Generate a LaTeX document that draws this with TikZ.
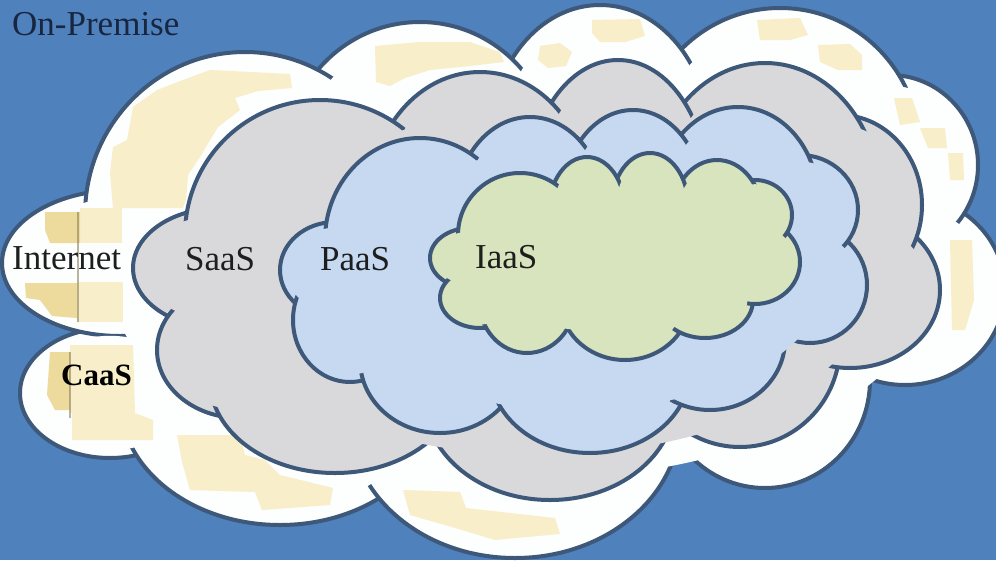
\documentclass[tikz,border=0pt]{standalone}
\usepackage{fontspec}
\setmainfont{Liberation Serif}

\definecolor{sky}{RGB}{79,129,189}
\definecolor{edge}{RGB}{62,88,122}
\definecolor{whitec}{RGB}{253,254,254}
\definecolor{cream}{RGB}{248,238,201}
\definecolor{sand}{RGB}{236,219,156}
\definecolor{greyc}{RGB}{217,217,219}
\definecolor{bluec}{RGB}{198,217,241}
\definecolor{greenc}{RGB}{215,228,189}
\definecolor{ink}{RGB}{30,30,30}
\definecolor{navy}{RGB}{24,38,64}

\tikzset{
  puff/.style={draw=edge, line width=4pt},
  lbl/.style={inner sep=0pt, anchor=west, text=ink, font=\fontsize{35}{40}\selectfont},
  lblbold/.style={inner sep=0pt, anchor=west, text=black, font=\fontsize{31}{36}\selectfont\bfseries},
}

% A cloud: every puff is filled and outlined in turn (later puffs on top),
% then slightly shrunk copies of the puffs and a core ellipse are filled
% to hide the long interior strokes, leaving only short arcs at the seams.
\newcommand\drawcloud[3]{%
  \foreach \px/\py/\ra/\rb in {#2}{%
    \path[puff, fill=#1] (\px,\py) ellipse [x radius=\ra pt, y radius=\rb pt];}
  \foreach \px/\py/\ra/\rb in {#2}{%
    \fill[#1] (\px,\py) ellipse [x radius={0.88*\ra pt}, y radius={0.88*\rb pt}];}
  \fill[#1] #3;
}

\begin{document}
\begin{tikzpicture}[x=1pt, y=-1pt]
  \useasboundingbox (0,0) rectangle (996,560);
  \fill[sky] (0,0) rectangle (996,560);
  \clip (0,0) rectangle (996,560);

  % outer white cloud (on-premise)
  \drawcloud{whitec}{905/290/100/95, 890/165/88/90, 780/150/140/142,
    600/140/110/135, 420/160/135/138, 110/393/90/65, 120/263/118/73,
    245/215/160/163, 280/400/160/125, 515/420/165/138, 765/380/105/108}
    {(520,280) ellipse [x radius=410pt, y radius=200pt]}

  % pale patches on the white cloud
  \fill[cream] (183,80) -- (210,70) -- (290,74) -- (292,88) -- (258,91) -- (235,98)
    -- (240,110) -- (218,127) -- (200,157) -- (188,175) -- (186,200) -- (183,208)
    -- (113,208) -- (110,173) -- (113,147) -- (127,140) -- (133,107) -- (157,90) -- cycle;
  \fill[cream] (375,46) -- (420,42) -- (470,42) -- (488,48) -- (500,52) -- (504,62)
    -- (470,66) -- (430,70) -- (405,78) -- (390,86) -- (376,82) -- cycle;
  \fill[cream] (540,46) -- (560,43) -- (572,52) -- (566,66) -- (548,68) -- (538,60) -- cycle;
  \fill[cream] (592,20) -- (640,19) -- (645,36) -- (625,42) -- (600,42) -- (592,33) -- cycle;
  \fill[cream] (757,20) -- (800,18) -- (808,35) -- (790,40) -- (760,40) -- cycle;
  \fill[cream] (818,45) -- (850,44) -- (862,55) -- (862,70) -- (838,70) -- (820,62) -- cycle;
  \fill[cream] (894,98) -- (912,98) -- (920,122) -- (900,125) -- cycle;
  \fill[cream] (920,128) -- (945,128) -- (947,148) -- (928,148) -- cycle;
  \fill[cream] (948,153) -- (963,153) -- (964,180) -- (950,180) -- cycle;
  \fill[cream] (950,240) -- (972,240) -- (974,300) -- (965,330) -- (952,330) -- cycle;
  \fill[cream] (177,435) -- (240,435) -- (245,455) -- (265,460) -- (280,475) -- (333,488)
    -- (330,505) -- (262,510) -- (255,492) -- (190,490) -- (182,462) -- cycle;
  \fill[cream] (403,490) -- (460,492) -- (466,508) -- (555,518) -- (560,534) -- (495,540)
    -- (462,530) -- (410,515) -- cycle;
  \fill[cream] (70,345) -- (133,345) -- (135,413) -- (153,420) -- (153,440) -- (72,440)
    -- (72,413) -- (70,413) -- cycle;
  \fill[cream] (80,208) -- (122,208) -- (122,243) -- (80,243) -- cycle;
  \fill[cream] (77,282) -- (123,282) -- (123,322) -- (77,322) -- cycle;
  \fill[sand] (45,212) -- (80,212) -- (80,243) -- (50,243) -- (45,230) -- cycle;
  \fill[sand] (25,283) -- (77,283) -- (77,318) -- (52,316) -- (40,300) -- (26,298) -- cycle;
  \fill[sand] (50,352) -- (70,352) -- (70,410) -- (55,410) -- (47,395) -- cycle;
  \draw[sand!60!black, line width=1.6pt, opacity=0.6] (78,212) -- (78,322);
  \draw[sand!60!black, line width=1.6pt, opacity=0.6] (70,352) -- (70,418);

  % SaaS cloud
  \drawcloud{greyc}{220/268/87/60, 240/350/83/68, 335/380/125/93, 550/400/125/100,
    740/345/100/102, 850/290/90/78, 840/205/82/90, 765/200/115/137,
    618/190/90/130, 480/200/110/128, 320/235/135/135}
    {(540,285) ellipse [x radius=330pt, y radius=170pt]}

  % PaaS cloud
  \drawcloud{bluec}{335/270/55/48, 350/320/57/62, 440/360/80/73, 590/370/100/83,
    710/340/75/70, 810/285/57/58, 800/210/58/55, 738/200/80/93,
    633/200/70/90, 530/210/75/93, 420/240/95/102}
    {(575,280) ellipse [x radius=250pt, y radius=130pt]}

  % IaaS cloud
  \drawcloud{greenc}{470/258/40/30, 480/298/40/30, 527/300/48/53, 625/300/65/60,
    705/300/48/38, 755/262/45/42, 755/215/37/35, 717/215/45/55,
    650/205/38/52, 587/210/38/53, 520/235/62/62}
    {(615,262) ellipse [x radius=160pt, y radius=70pt]}

  % labels
  \node[lbl, text=navy] (onprem) at (12,24) {On-Premise};
  \node[lbl] (internet) at (12,258.5) {Internet};
  \node[lbl] (saas) at (185,259) {SaaS};
  \node[lbl] (paas) at (320,259) {PaaS};
  \node[lbl] (iaas) at (475,257) {IaaS};
  \node[lblbold] (caas) at (61,375) {CaaS};
\end{tikzpicture}
\end{document}
